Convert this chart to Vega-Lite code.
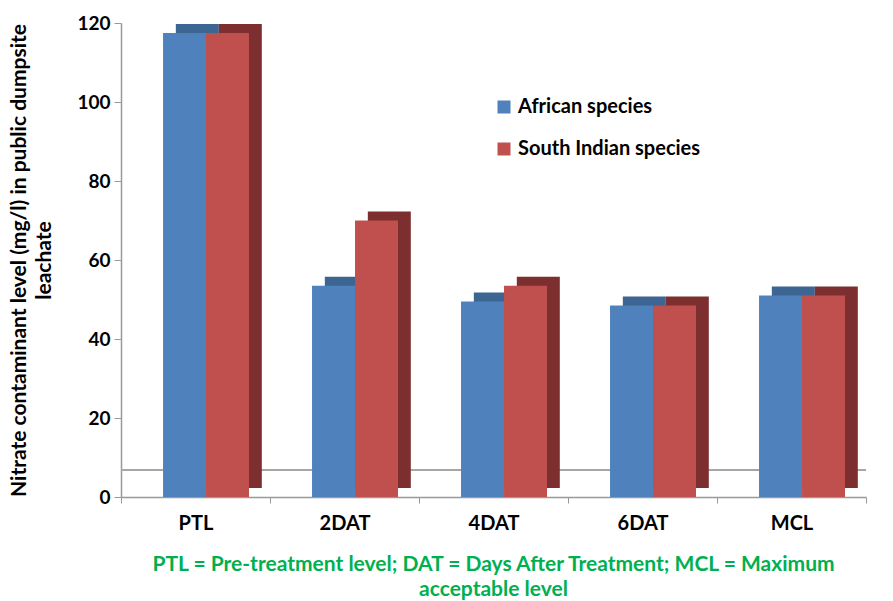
{
  "$schema": "https://vega.github.io/schema/vega-lite/v6.json",
  "autosize": {"type": "none"},
  "width": 745,
  "height": 474,
  "padding": {"left": 121, "top": 23, "right": 27, "bottom": 104},
  "background": "white",
  "config": {
    "font": "Lato",
    "view": {"stroke": null}
  },
  "title": {
    "text": ["PTL = Pre-treatment level; DAT = Days After Treatment; MCL = Maximum", "acceptable level"],
    "orient": "bottom",
    "anchor": "middle",
    "color": "#00B050",
    "font": "Lato",
    "fontSize": 21,
    "fontWeight": "bold",
    "lineHeight": 25,
    "offset": 21
  },
  "data": {
    "values": [
      {"category": "PTL", "species": "African species", "value": 117.5},
      {"category": "PTL", "species": "South Indian species", "value": 117.5},
      {"category": "2DAT", "species": "African species", "value": 53.5},
      {"category": "2DAT", "species": "South Indian species", "value": 70},
      {"category": "4DAT", "species": "African species", "value": 49.5},
      {"category": "4DAT", "species": "South Indian species", "value": 53.5},
      {"category": "6DAT", "species": "African species", "value": 48.5},
      {"category": "6DAT", "species": "South Indian species", "value": 48.5},
      {"category": "MCL", "species": "African species", "value": 51},
      {"category": "MCL", "species": "South Indian species", "value": 51}
    ]
  },
  "encoding": {
    "x": {
      "field": "category",
      "type": "nominal",
      "sort": ["PTL", "2DAT", "4DAT", "6DAT", "MCL"],
      "scale": {"paddingInner": 0, "paddingOuter": 0},
      "axis": {
        "title": null,
        "labelAngle": 0,
        "labelFont": "Lato",
        "labelFontSize": 20,
        "labelFontWeight": "bold",
        "labelColor": "black",
        "labelPadding": 10,
        "tickBand": "extent",
        "tickSize": 6,
        "tickColor": "#999999",
        "domainColor": "#999999",
        "domainWidth": 1.5
      }
    },
    "y": {
      "field": "value",
      "type": "quantitative",
      "scale": {"domain": [0, 120], "nice": false},
      "axis": {
        "title": ["Nitrate  contaminant level (mg/l) in public dumpsite", "leachate"],
        "titleFont": "Lato",
        "titleFontSize": 21,
        "titleFontWeight": "bold",
        "titleColor": "black",
        "titleLineHeight": 25,
        "titlePadding": 22,
        "values": [0, 20, 40, 60, 80, 100, 120],
        "grid": false,
        "labelFont": "Lato",
        "labelFontSize": 19,
        "labelFontWeight": "bold",
        "labelColor": "black",
        "labelPadding": 4,
        "tickSize": 7,
        "tickColor": "#999999",
        "domainColor": "#999999",
        "domainWidth": 1.5
      }
    }
  },
  "layer": [
    {
      "mark": {"type": "rule", "stroke": "#A6A6A6", "strokeWidth": 1.5},
      "encoding": {"y": {"datum": 6.8}, "x": null}
    },
    {
      "mark": {"type": "bar", "yOffset": -9},
      "encoding": {
        "xOffset": {
          "field": "species",
          "type": "nominal",
          "scale": {"paddingInner": 0, "paddingOuter": 0.733, "align": 0.87}
        },
        "color": {
          "field": "species",
          "type": "nominal",
          "scale": {"domain": ["African species", "South Indian species"], "range": ["#3D6592", "#7C2F2E"]},
          "legend": null
        }
      }
    },
    {
      "mark": {"type": "bar"},
      "encoding": {
        "xOffset": {
          "field": "species",
          "type": "nominal",
          "scale": {"paddingInner": 0, "paddingOuter": 0.733, "align": 0.667}
        },
        "color": {
          "field": "species",
          "type": "nominal",
          "scale": {"domain": ["African species", "South Indian species"], "range": ["#4F81BD", "#C0504D"]},
          "legend": {
            "title": null,
            "orient": "none",
            "legendX": 373,
            "legendY": 74,
            "symbolType": "square",
            "symbolSize": 169,
            "symbolStrokeWidth": 0,
            "labelFont": "Lato",
            "labelFontSize": 20,
            "labelFontWeight": "bold",
            "labelColor": "black",
            "labelOffset": 4,
            "labelLimit": 400,
            "rowPadding": 22
          }
        }
      }
    }
  ],
  "resolve": {"scale": {"color": "independent", "xOffset": "independent"}}
}
